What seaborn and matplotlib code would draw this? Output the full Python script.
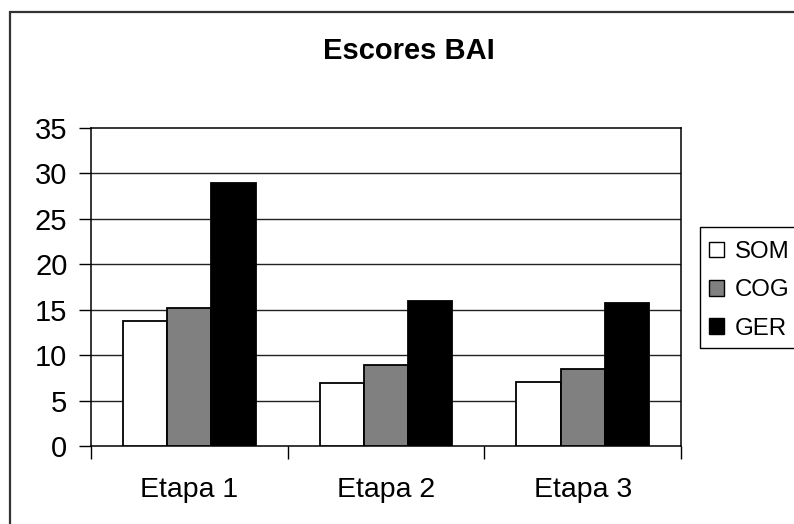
import matplotlib
matplotlib.use("Agg")
import matplotlib.pyplot as plt
from matplotlib.patches import Patch, Rectangle
from matplotlib.ticker import FixedLocator
import pandas as pd
import seaborn as sns

# BAI scores per stage and subscale
etapas = ["Etapa 1", "Etapa 2", "Etapa 3"]
series = ["SOM", "COG", "GER"]
som = [13.8, 6.9, 7.0]
cog = [15.2, 8.9, 8.5]
ger = [29.0, 16.0, 15.7]
cores = ["#ffffff", "#808080", "#000000"]
yticks = [0, 5, 10, 15, 20, 25, 30, 35]

df = pd.DataFrame({
    "Etapa": etapas * 3,
    "Escala": [s for s in series for _ in etapas],
    "Escore": som + cog + ger,
})

sns.set_style("white")
plt.rcParams["font.family"] = ["Liberation Sans", "DejaVu Sans"]
plt.rcParams.update({"text.color": "black", "axes.labelcolor": "black",
                     "xtick.color": "black", "ytick.color": "black"})

W, H = 794, 524
fig = plt.figure(figsize=(W / 100, H / 100), dpi=100)
ax = fig.add_axes([91 / W, 1 - 446 / H, (681 - 91) / W, (446 - 128) / H])

sns.barplot(data=df, x="Etapa", y="Escore", hue="Escala", order=etapas,
            hue_order=series, palette=cores, width=0.675, gap=0,
            edgecolor="black", linewidth=1.3, saturation=1, ax=ax,
            legend=False, zorder=3)

ax.set_ylim(0, 35)
ax.set_xlim(-0.5, 2.5)
ax.set_yticks(yticks)
ax.set_yticklabels([str(v) for v in yticks])
for y in yticks[1:-1]:
    ax.axhline(y, color="#222222", linewidth=1, zorder=1)

ax.set_xlabel("")
ax.set_ylabel("")
ax.tick_params(axis="y", which="major", direction="out", length=9, width=1,
               color="black", pad=8, labelsize=21, left=True)
ax.tick_params(axis="x", which="major", length=0, pad=22, labelsize=20.5)
ax.xaxis.set_minor_locator(FixedLocator([-0.5, 0.5, 1.5, 2.5]))
ax.tick_params(axis="x", which="minor", direction="out", length=9, width=1,
               color="black", bottom=True)
for sp in ax.spines.values():
    sp.set_visible(True)
    sp.set_color("black")
    sp.set_linewidth(1.1)

fig.text(409 / W, 1 - 59 / H, "Escores BAI", ha="center", va="baseline",
         fontsize=21, fontweight="bold")

# legend entries, with its box drawn as a separate frame
handles = [Patch(facecolor=c, edgecolor="black", linewidth=1) for c in cores]
leg = fig.legend(handles, series, loc="upper left",
                 bbox_to_anchor=(709 / W, 1 - 241 / H), fontsize=17.3,
                 frameon=False, handlelength=0.62, handleheight=0.62,
                 handletextpad=0.45, labelspacing=0.68, borderpad=0,
                 borderaxespad=0)
fig.patches.append(Rectangle((700 / W, 1 - 348 / H), 0.2, (348 - 227) / H,
                             transform=fig.transFigure, fill=False,
                             edgecolor="black", linewidth=1))

# chart area frame
fig.patches.append(Rectangle((10 / W, -0.1), 1.2, 1 - 12 / H + 0.1,
                             transform=fig.transFigure, fill=False,
                             edgecolor="#333333", linewidth=1.6))

fig.savefig("out.png", dpi=100)
